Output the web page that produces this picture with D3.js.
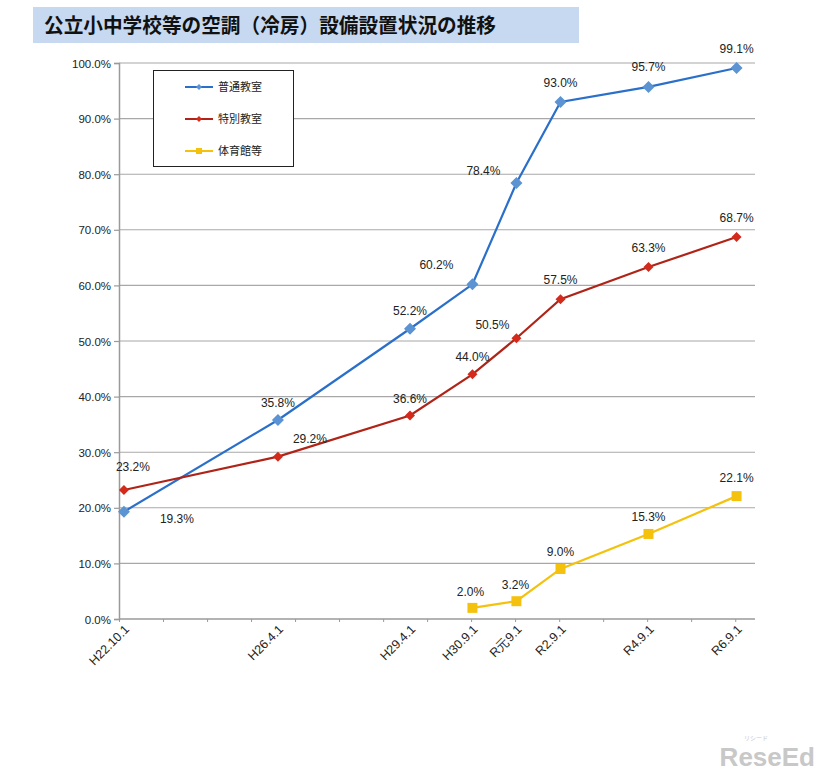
<!DOCTYPE html>
<html><head><meta charset="utf-8">
<script src="https://cdn.jsdelivr.net/npm/d3@7"></script>
<style>
body{margin:0;background:#fff;}
svg{display:block;}
</style></head>
<body>
<svg id="chart" width="826" height="772"></svg>
<script>
// ---- data ----
const title = "公立小中学校等の空調（冷房）設備設置状況の推移";
const categories = ["H22.10.1","H26.4.1","H29.4.1","H30.9.1","R元9.1","R2.9.1","R4.9.1","R6.9.1"];
const dates = ["2010-10-01","2014-04-01","2017-04-01","2018-09-01","2019-09-01","2020-09-01","2022-09-01","2024-09-01"];
const seriesNames = ["普通教室","特別教室","体育館等"];
const futsuu = [19.3, 35.8, 52.2, 60.2, 78.4, 93.0, 95.7, 99.1];
const tokubetsu = [23.2, 29.2, 36.6, 44.0, 50.5, 57.5, 63.3, 68.7];
const taiikukan = [null, null, null, 2.0, 3.2, 9.0, 15.3, 22.1];
const yTicks = [0,10,20,30,40,50,60,70,80,90,100];

// ---- layout / style (not data) ----
const colors = {line:["#2a6fc9","#b02418","#f4c20d"], marker:["#5b93d3","#d42a1c","#f4c20d"]};
const labelOffsets = [
  [[53,7],[0,-17],[0,-18],[-36,-19],[-33,-12],[0,-19],[0,-20],[0,-19]],
  [[9,-23],[32,-18],[0,-17],[0,-18],[-24,-13],[0,-20],[0,-19],[0,-19]],
  [null,null,null,[-2,-16],[-1,-16],[0,-17],[0,-17],[0,-18]]
];

const svg = d3.select("#chart");
const parse = d3.timeParse("%Y-%m-%d");
const xDates = dates.map(parse);
const x0 = parse("2010-08-21"), x1 = parse("2025-02-01");
const x = d3.scaleTime().domain([x0, x1]).range([119, 755]);
const y = d3.scaleLinear().domain([0, 100]).range([619, 63]);

// title
svg.append("rect").attr("x",33).attr("y",7).attr("width",546).attr("height",36).attr("fill","#c6d9f0");
svg.append("text").attr("x",44).attr("y",33).attr("textLength",452).attr("lengthAdjust","spacingAndGlyphs")
  .style("font-family","'Noto Sans CJK JP'").style("font-weight","bold").style("font-size","20px").attr("fill","#111").text(title);

// gridlines
svg.append("g").selectAll("line").data(yTicks.slice(1)).join("line")
  .attr("x1",119).attr("x2",755).attr("y1",d=>y(d)).attr("y2",d=>y(d))
  .attr("stroke","#a8a8a8").attr("stroke-width",1.1);

// y axis
const yAxis = d3.axisLeft(y).tickValues(yTicks).tickSize(5).tickFormat(d=>d.toFixed(1)+"%");
const gy = svg.append("g").attr("transform","translate(119,0)").call(yAxis);
gy.select(".domain").attr("stroke","#9a9a9a").attr("stroke-width",1.5);
gy.selectAll(".tick line").attr("stroke","#9a9a9a").attr("stroke-width",1.2);
gy.selectAll(".tick text").attr("x",-8).attr("dy","0.35em").attr("fill","#222")
  .style("font-family","'Liberation Sans', Arial, sans-serif").style("font-size","11.5px");

// x axis
const tickDates = d3.range(15).map(i=>d3.timeYear.offset(x0,i));
const xAxis = d3.axisBottom(x).tickValues(tickDates).tickSize(3).tickFormat("");
const gx = svg.append("g").attr("transform","translate(0,619)").call(xAxis);
gx.select(".domain").attr("stroke","#9a9a9a").attr("stroke-width",1.5).attr("d","M119,0H755");
gx.selectAll(".tick line").attr("stroke","#9a9a9a");
svg.append("g").selectAll("text").data(categories).join("text")
  .attr("transform",(d,i)=>`translate(${x(xDates[i])+3},${627}) rotate(-45)`)
  .attr("text-anchor","end").attr("dy","0.35em").attr("fill","#222")
  .style("font-family","'Liberation Sans', Arial, sans-serif").style("font-size","12.5px").text(d=>d);

// series
const allSeries = [futsuu, tokubetsu, taiikukan];
const line = d3.line().defined(d=>d.v!=null).x(d=>x(d.t)).y(d=>y(d.v));
allSeries.forEach((vals, si)=>{
  const pts = vals.map((v,i)=>({v, t:xDates[i], i}));
  svg.append("path").datum(pts).attr("d",line).attr("fill","none")
    .attr("stroke",colors.line[si]).attr("stroke-width",2.2);
});
allSeries.forEach((vals, si)=>{
  const pts = vals.map((v,i)=>({v, t:xDates[i], i})).filter(d=>d.v!=null);
  const g = svg.append("g");
  if (si===2) {
    g.selectAll("rect").data(pts).join("rect")
      .attr("x",d=>x(d.t)-5).attr("y",d=>y(d.v)-5).attr("width",10).attr("height",10)
      .attr("fill",colors.marker[si]);
  } else {
    const r = si===0 ? 6 : 5;
    g.selectAll("path").data(pts).join("path")
      .attr("d",d=>{const cx=x(d.t), cy=y(d.v); return `M${cx},${cy-r}L${cx+r},${cy}L${cx},${cy+r}L${cx-r},${cy}Z`;})
      .attr("fill",colors.marker[si]);
  }
  svg.append("g").selectAll("text").data(pts).join("text")
    .attr("x",d=>x(d.t)+labelOffsets[si][d.i][0]).attr("y",d=>y(d.v)+labelOffsets[si][d.i][1])
    .attr("text-anchor","middle").attr("dy","0.35em").attr("fill","#222")
    .style("font-family","'Liberation Sans', Arial, sans-serif").style("font-size","12px")
    .text(d=>d.v.toFixed(1)+"%");
});

// legend
const lg = svg.append("g");
lg.append("rect").attr("x",153.5).attr("y",70.5).attr("width",140).attr("height",96)
  .attr("fill","#fff").attr("stroke","#222").attr("stroke-width",1);
seriesNames.forEach((n,i)=>{
  const ly = 87 + i*32;
  lg.append("line").attr("x1",185).attr("x2",213).attr("y1",ly).attr("y2",ly)
    .attr("stroke",colors.line[i]).attr("stroke-width",2);
  if (i===2) lg.append("rect").attr("x",196).attr("y",ly-3).attr("width",6).attr("height",6).attr("fill",colors.marker[i]);
  else lg.append("path").attr("d",`M199,${ly-3}L202,${ly}L199,${ly+3}L196,${ly}Z`).attr("fill",colors.marker[i]);
  lg.append("text").attr("x",218).attr("y",ly).attr("dy","0.35em").attr("fill","#222")
    .style("font-family","'Noto Sans CJK JP'").style("font-size","11px").text(n);
});

// watermark
svg.append("text").attr("x",815).attr("y",766).attr("text-anchor","end").attr("fill","#c8c8c8")
  .style("font-family","'Liberation Sans', Arial, sans-serif").style("font-weight","bold").style("font-size","26px").text("ReseEd");
svg.append("text").attr("x",756).attr("y",740).attr("text-anchor","middle").attr("fill","#c8c8c8")
  .style("font-family","'Noto Sans CJK JP'").style("font-size","6px").text("リシード");
</script>
</body></html>
